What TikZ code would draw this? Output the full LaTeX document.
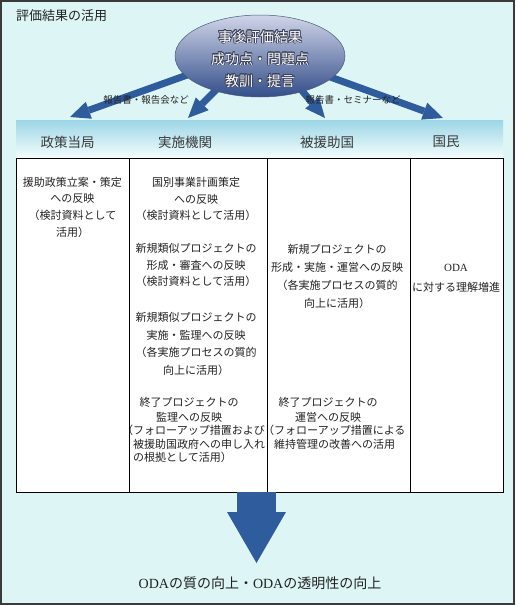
\documentclass[tikz,border=0pt]{standalone}
\usepackage{fontspec}
\setmainfont{Noto Sans CJK JP}
\newfontfamily\lat{Liberation Serif}
\usepackage{contour}
\contourlength{0.55pt}
\contournumber{16}
\usetikzlibrary{arrows.meta,shapes.geometric}
\definecolor{bgc}{HTML}{DDF6F5}
\definecolor{framec}{HTML}{3A3A3A}
\definecolor{arrc}{HTML}{2F5C9C}
\definecolor{bandtop}{HTML}{9CD6E6}
\definecolor{bandbot}{HTML}{F2FCFC}
\definecolor{elltop}{HTML}{D0D5E8}
\definecolor{ellmid}{HTML}{8C99C0}
\definecolor{ellbot}{HTML}{334E8A}
\definecolor{ellline}{HTML}{4A5A80}
\definecolor{elltxt}{HTML}{3A4058}
\definecolor{headc}{HTML}{3A3A3A}
\definecolor{txtc}{HTML}{222222}
\tikzset{
  cell/.style={align=center, inner sep=0pt, text=txtc, font=\fontsize{11}{17.5}\selectfont},
  cellleft/.style={align=left, inner sep=0pt, text=txtc, font=\fontsize{11}{13.5}\selectfont},
  cellpair/.style={align=center, inner sep=0pt, text=txtc, font=\fontsize{11}{15}\selectfont},
  head/.style={inner sep=0pt, text=headc, font=\fontsize{13.5}{14}\selectfont},
  lbl/.style={inner sep=0pt, text=txtc, font=\fontsize{9.5}{10}\selectfont},
  flow/.style={draw=arrc, line width=7pt, -{Triangle[width=18pt,length=20pt,line width=0pt]}},
  bigflow/.style={draw=arrc, line width=39pt, -{Triangle[width=59pt,length=51pt,line width=0pt]}},
  rule/.style={draw=black, line width=0.8pt}
}
\newcommand{\ewt}[1]{\contour{elltxt}{#1}}
\begin{document}
\begin{tikzpicture}[x=1pt,y=-1pt]
\useasboundingbox (0,0) rectangle (515,605);
\draw[line width=2pt, draw=framec, fill=bgc] (1,1) rectangle (514,604);
\node[anchor=west, inner sep=0pt, text=txtc, font=\fontsize{13}{13}\selectfont] (title) at (16,16) {評価結果の活用};
% header band
\shade[top color=bandtop, bottom color=bandbot] (16,120) rectangle (503,157);
\node[head] (h1) at (67.5,142) {政策当局};
\node[head] (h2) at (185,142) {実施機関};
\node[head] (h3) at (327,142) {被援助国};
\node[head] (h4) at (446,142) {国民};
% arrows from the ellipse
\coordinate (s1) at (190,74);
\coordinate (s2) at (218,88);
\coordinate (s3) at (298,86);
\coordinate (s4) at (322,74);
\coordinate (t1) at (70,117);
\coordinate (t2) at (188,118);
\coordinate (t3) at (325,118);
\coordinate (t4) at (443,118);
\draw[flow] (s1) -- (t1);
\draw[flow] (s2) -- (t2);
\draw[flow] (s3) -- (t3);
\draw[flow] (s4) -- (t4);
% ellipse
\node[ellipse, minimum width=170pt, minimum height=82pt, inner sep=0pt,
  top color=elltop, middle color=ellmid, bottom color=ellbot, draw=ellline, line width=0.5pt] (ev) at (260,56) {};
\node[align=center, inner sep=0pt, text=white, font=\fontsize{14}{22}\selectfont] (evt) at (260,59)
 {\ewt{事後評価結果}\\\ewt{成功点・問題点}\\\ewt{教訓・提言}};
\node[lbl] (l1) at (146,100) {報告書・報告会など};
\node[lbl] (l2) at (353,100) {報告書・セミナーなど};
% table
\node[rule, fill=white, minimum width=487pt, minimum height=334pt, inner sep=0pt, anchor=north west] (tbl) at (16,158) {};
\draw[rule] (129,158) -- (129,492);
\draw[rule] (267,158) -- (267,492);
\draw[rule] (410,158) -- (410,492);
% cells
\node[cell, font=\fontsize{11}{16.7}\selectfont] (c1) at (72.5,207) {援助政策立案・策定\\への反映\\（検討資料として\\活用）};
\node[cell, font=\fontsize{11}{16.7}\selectfont] (c2a) at (196,199) {国別事業計画策定\\への反映\\（検討資料として活用）};
\node[cell, font=\fontsize{11}{16.7}\selectfont] (c2b) at (196,265) {新規類似プロジェクトの\\形成・審査への反映\\（検討資料として活用）};
\node[cell] (c2c) at (196,344) {新規類似プロジェクトの\\実施・監理への反映\\（各実施プロセスの質的\\向上に活用）};
\node[cellpair] (c2d) at (189,409.5) {終了プロジェクトの\\監理への反映};
\node[cellleft, anchor=west] (c2e) at (133,444) {\hspace*{-11pt}（フォローアップ措置および\\被援助国政府への申し入れ\\の根拠として活用）};
\node[cell, font=\fontsize{11}{18}\selectfont] (c3a) at (337,276) {新規プロジェクトの\\形成・実施・運営への反映\\（各実施プロセスの質的\\向上に活用）};
\node[cellpair] (c3d) at (328,409.5) {終了プロジェクトの\\運営への反映};
\node[cellleft, anchor=west] (c3e) at (274,437.5) {\hspace*{-11pt}（フォローアップ措置による\\維持管理の改善への活用};
\node[cell, font=\fontsize{11}{20}\selectfont] (c4) at (456,278) {{\lat ODA}\\に対する理解増進};
% bottom
\node[inner sep=0pt, text=txtc, font=\fontsize{14}{14}\selectfont] (goal) at (260,583) {{\lat ODA}の質の向上・{\lat ODA}の透明性の向上};
\coordinate (bs) at (256.5,492);
\coordinate (bt) at (256.5,563);
\draw[bigflow] (bs) -- (bt);
\end{tikzpicture}
\end{document}
